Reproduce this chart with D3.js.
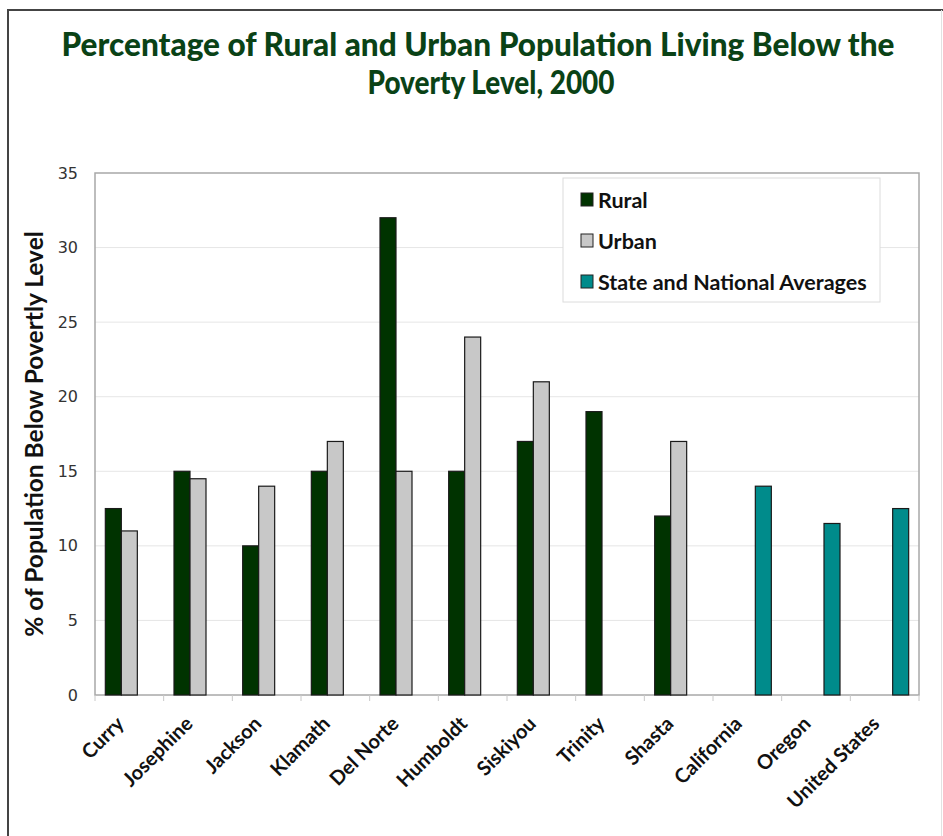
<!DOCTYPE html>
<html>
<head>
<meta charset="utf-8">
<script src="https://cdn.jsdelivr.net/npm/d3@7"></script>
<style>
  html, body { margin: 0; padding: 0; background: #fff; }
  svg { display: block; }
</style>
</head>
<body>
<svg id="chart" width="943" height="836"></svg>
<script>
// Places along the x axis
const categories = ["Curry", "Josephine", "Jackson", "Klamath", "Del Norte", "Humboldt",
                    "Siskiyou", "Trinity", "Shasta", "California", "Oregon", "United States"];
// Percent below poverty level (null = no bar)
const rural    = [12.5, 15, 10, 15, 32, 15, 17, 19, 12, null, null, null];
const urban    = [11, 14.5, 14, 17, 15, 24, 21, null, 17, null, null, null];
const averages = [null, null, null, null, null, null, null, null, null, 14, 11.5, 12.5];
const seriesNames = ["Rural", "Urban", "State and National Averages"];
const yTicks = [0, 5, 10, 15, 20, 25, 30, 35];

const colors = ["#003300", "#c8c8c8", "#008b8b"];
const series = [rural, urban, averages];
const labelFont = "Lato, 'Open Sans', sans-serif";

const svg = d3.select("#chart");

// Outer frame
svg.append("path")
  .attr("d", "M8,840 L8,10 L943,10")
  .attr("fill", "none").attr("stroke", "#444").attr("stroke-width", 2);
svg.append("line")
  .attr("x1", 941.5).attr("x2", 941.5).attr("y1", 10).attr("y2", 836)
  .attr("stroke", "#e2e2e2").attr("stroke-width", 1);

// Title
const title = svg.append("text")
  .attr("text-anchor", "middle")
  .attr("fill", "#0a4216")
  .style("font-family", labelFont)
  .style("font-weight", "900")
  .style("font-size", "32px");
title.append("tspan").attr("x", 478).attr("y", 56)
  .attr("textLength", 833).attr("lengthAdjust", "spacingAndGlyphs")
  .text("Percentage of Rural and Urban Population Living Below the");
title.append("tspan").attr("x", 491).attr("y", 94)
  .attr("textLength", 247).attr("lengthAdjust", "spacingAndGlyphs")
  .text("Poverty Level, 2000");

// Plot area
const plot = { left: 95, top: 173, right: 919, bottom: 695 };

const x = d3.scaleBand()
  .domain(categories)
  .range([plot.left, plot.right])
  .paddingInner(0).paddingOuter(0);

const y = d3.scaleLinear()
  .domain([0, 35])
  .range([plot.bottom, plot.top]);

const sub = d3.scaleBand()
  .domain(d3.range(series.length))
  .range([-24, 24]);

// Gridlines
svg.append("g")
  .selectAll("line")
  .data(yTicks.filter(t => t > 0 && t < 35))
  .join("line")
  .attr("x1", plot.left).attr("x2", plot.right)
  .attr("y1", d => y(d)).attr("y2", d => y(d))
  .attr("stroke", "#e6e6e6").attr("stroke-width", 1);

// Plot border
svg.append("rect")
  .attr("x", plot.left).attr("y", plot.top)
  .attr("width", plot.right - plot.left).attr("height", plot.bottom - plot.top)
  .attr("fill", "none").attr("stroke", "#a8a8a8").attr("stroke-width", 1.5);

// Y axis
const yAxis = svg.append("g")
  .attr("transform", `translate(${plot.left},0)`)
  .call(d3.axisLeft(y).tickValues(yTicks).tickSize(0).tickPadding(17));
yAxis.select(".domain").remove();
yAxis.selectAll("text")
  .attr("fill", "#333")
  .style("font-family", "'DejaVu Sans', Verdana, sans-serif")
  .style("font-size", "16px");

// X axis ticks at category boundaries
const xAxis = svg.append("g")
  .attr("transform", `translate(0,${plot.bottom})`);
xAxis.selectAll("line")
  .data(d3.range(categories.length + 1))
  .join("line")
  .attr("x1", i => plot.left + i * x.bandwidth())
  .attr("x2", i => plot.left + i * x.bandwidth())
  .attr("y1", 0).attr("y2", 6)
  .attr("stroke", "#c8c8c8").attr("stroke-width", 1);

xAxis.selectAll("text")
  .data(categories)
  .join("text")
  .attr("transform", d => `translate(${x(d) + x.bandwidth() / 2 - 9},${25}) rotate(-45)`)
  .attr("text-anchor", "end")
  .attr("dy", "0.35em")
  .attr("fill", "#111")
  .style("font-family", labelFont)
  .style("font-weight", "bold")
  .style("font-size", "20px")
  .text(d => d);

// Bars
series.forEach((vals, si) => {
  svg.append("g")
    .selectAll("rect")
    .data(categories.map((c, i) => ({ c, v: vals[i] })).filter(d => d.v != null))
    .join("rect")
    .attr("x", d => x(d.c) + x.bandwidth() / 2 + sub(si))
    .attr("y", d => y(d.v))
    .attr("width", sub.bandwidth())
    .attr("height", d => y(0) - y(d.v))
    .attr("fill", colors[si])
    .attr("stroke", "#1a1a1a")
    .attr("stroke-width", 1.2);
});

// Y axis title
svg.append("text")
  .attr("transform", `translate(43,${434}) rotate(-90)`)
  .attr("text-anchor", "middle")
  .attr("fill", "#111")
  .style("font-family", labelFont)
  .style("font-weight", "bold")
  .style("font-size", "24.5px")
  .text("% of Population Below Povertly Level");

// Legend
const legend = svg.append("g");
legend.append("rect")
  .attr("x", 563).attr("y", 178).attr("width", 317).attr("height", 124)
  .attr("fill", "#fff").attr("stroke", "#dcdcdc").attr("stroke-width", 1);
const items = legend.selectAll("g.item")
  .data(seriesNames)
  .join("g")
  .attr("class", "item")
  .attr("transform", (d, i) => `translate(581,${200 + i * 41})`);
items.append("rect")
  .attr("x", 0).attr("y", -7).attr("width", 12).attr("height", 13)
  .attr("fill", (d, i) => colors[i])
  .attr("stroke", "#222").attr("stroke-width", 1);
items.append("text")
  .attr("x", 17).attr("y", 0).attr("dy", "0.36em")
  .attr("fill", "#111")
  .style("font-family", labelFont)
  .style("font-weight", "bold")
  .style("font-size", "21.5px")
  .text(d => d);
</script>
</body>
</html>
